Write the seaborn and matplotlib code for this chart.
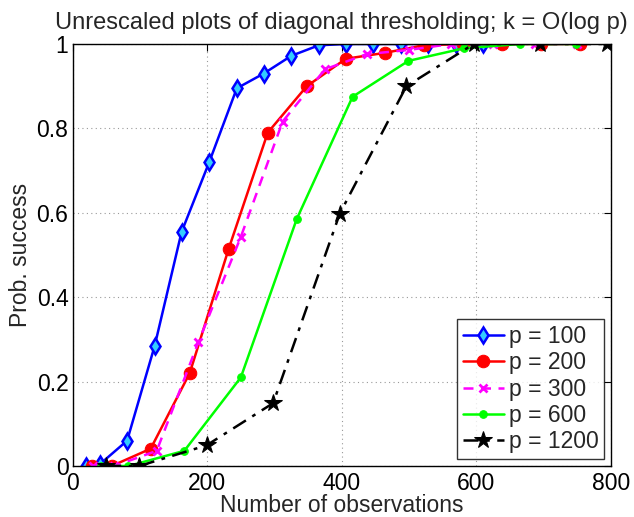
import matplotlib
matplotlib.use("Agg")
import matplotlib.pyplot as plt
import seaborn as sns
import pandas as pd

# Data
x_p100 = [20, 41, 81, 122, 162, 203, 244, 284, 325, 366, 406, 447, 488, 528, 569, 610]
y_p100 = [0.0, 0.005, 0.06, 0.285, 0.555, 0.72, 0.895, 0.93, 0.972, 0.997, 1.0, 1.0, 1.0, 1.0, 1.0, 1.0]

x_p200 = [29, 58, 116, 174, 232, 290, 348, 406, 464, 522, 580, 638, 696, 754]
y_p200 = [0.0, 0.0, 0.041, 0.22, 0.515, 0.79, 0.90, 0.965, 0.979, 0.997, 1.0, 1.0, 1.0, 1.0]

x_p300 = [31, 62, 125, 187, 250, 312, 375, 437, 500, 562, 624, 687, 749]
y_p300 = [0.0, 0.0, 0.036, 0.294, 0.543, 0.816, 0.94, 0.976, 0.986, 1.0, 1.0, 1.0, 1.0]

x_p600 = [42, 83, 166, 250, 333, 416, 499, 582, 665, 748]
y_p600 = [0.0, 0.0, 0.036, 0.21, 0.585, 0.875, 0.96, 0.99, 1.0, 1.0]

x_p1200 = [50, 99, 199, 298, 397, 496, 596, 695, 794]
y_p1200 = [0.0, 0.0, 0.049, 0.149, 0.598, 0.90, 1.0, 1.0, 1.0]

labels = ["p = 100", "p = 200", "p = 300", "p = 600", "p = 1200"]

sns.set_style("white")
plt.rcParams["font.family"] = ["Liberation Sans", "DejaVu Sans"]

FS = 16.5

fig = plt.figure(figsize=(6.34, 5.17), dpi=100)
ax = fig.add_axes([0.1145, 0.0986, 0.8492, 0.8163])

styles = [
    dict(color="#0000ff", linestyle="-", marker="d", markersize=8.5, markerfacecolor="#33ccff",
         markeredgecolor="#0000ff", markeredgewidth=1.8),
    dict(color="#ff0000", linestyle="-", marker="o", markersize=9, markerfacecolor="#ff0000",
         markeredgecolor="#ff0000"),
    dict(color="#ff00ff", linestyle=(0, (4, 3)), marker="x", markersize=5.5, markeredgewidth=2,
         markeredgecolor="#ff00ff"),
    dict(color="#00ff00", linestyle="-", marker="o", markersize=5.5, markerfacecolor="#00ff00",
         markeredgecolor="#00ff00"),
    dict(color="#000000", linestyle=(0, (6, 3, 1.5, 3)), marker="*", markersize=13,
         markerfacecolor="#000000", markeredgecolor="#000000"),
]

series = [(x_p100, y_p100), (x_p200, y_p200), (x_p300, y_p300), (x_p600, y_p600), (x_p1200, y_p1200)]
for (xs, ys), lab, st in zip(series, labels, styles):
    df = pd.DataFrame({"n": xs, "prob": ys})
    sns.lineplot(data=df, x="n", y="prob", ax=ax, label=lab, linewidth=1.8, **st)

ax.set_xlim(0, 800)
ax.set_ylim(0, 1)
ax.set_xticks([0, 200, 400, 600, 800])
ax.set_yticks([0, 0.2, 0.4, 0.6, 0.8, 1.0])
ax.set_yticklabels(["0", "0.2", "0.4", "0.6", "0.8", "1"])
ax.grid(True, color="#999999", linestyle=(0, (1, 3)), linewidth=0.8)
ax.tick_params(direction="in", length=5, width=0.8, top=True, right=True,
               labelsize=FS, colors="black", pad=3)
ax.tick_params(axis="x", pad=4.5)
for sp in ax.spines.values():
    sp.set_color("black")
    sp.set_linewidth(1.0)

ax.set_xlabel("Number of observations", fontsize=FS, labelpad=-1)
ax.set_ylabel("Prob. success", fontsize=FS, labelpad=3)
ax.set_title("Unrescaled plots of diagonal thresholding; k = O(log p)", fontsize=17, pad=11)

leg = ax.legend(loc="lower right", fontsize=FS, frameon=True, fancybox=False,
                edgecolor="black", handlelength=1.8, handletextpad=0.2,
                borderpad=0.25, labelspacing=0.15, borderaxespad=0.3)
leg.get_frame().set_linewidth(1.0)

fig.savefig("out.png", dpi=100)
